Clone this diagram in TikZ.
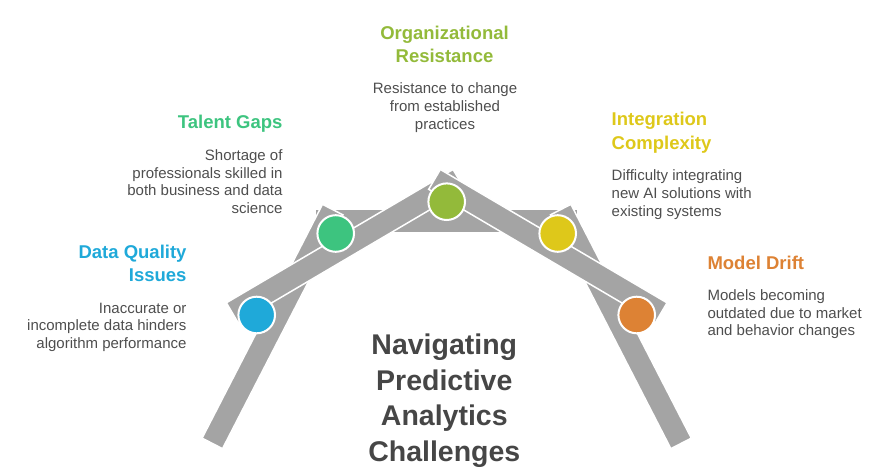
\documentclass[tikz,border=0pt]{standalone}
\usepackage{fontspec}
\setmainfont{Liberation Sans}
\definecolor{barc}{RGB}{164,164,164}
\definecolor{cblue}{RGB}{31,169,217}
\definecolor{cgreen}{RGB}{61,196,127}
\definecolor{colive}{RGB}{147,186,58}
\definecolor{cyellow}{RGB}{222,200,26}
\definecolor{corange}{RGB}{221,130,52}
\definecolor{desc}{RGB}{78,78,78}
\definecolor{maint}{RGB}{70,70,70}
\newcommand{\linesR}[1]{\begin{tabular}[t]{@{}r@{}}#1\end{tabular}}
\newcommand{\linesL}[1]{\begin{tabular}[t]{@{}l@{}}#1\end{tabular}}
\newcommand{\linesC}[1]{\begin{tabular}[t]{@{}c@{}}#1\end{tabular}}
\begin{document}
\begin{tikzpicture}[x=1pt,y=-1pt,
  bar/.style={draw=white, line width=1.5pt, fill=barc, minimum width=263pt, minimum height=23pt, inner sep=0pt, outer sep=0pt},
  dot/.style={circle, draw=white, line width=2pt, minimum size=36.6pt, inner sep=0pt},
  ttl/.style={font=\fontsize{18.5}{23.6}\selectfont\bfseries, inner sep=0pt},
  dsc/.style={font=\fontsize{15}{17.6}\selectfont, text=desc, inner sep=0pt},
]
\useasboundingbox (0,0) rectangle (893,470);
% bars
\node[bar] (hbar) at (446.7,221) {};
\node[bar, rotate=62.75] (legL) at (272.5,326.5) {};
\node[bar, rotate=-62.75] (legR) at (620.9,326.5) {};
\node[bar, rotate=30.46] (armL) at (345.55,246.05) {};
\node[bar, rotate=-30.46] (armR) at (547.85,246.05) {};
% circles
\node[dot, fill=cblue] (c1) at (256.7,315) {};
\node[dot, fill=cgreen] (c2) at (335.7,233.5) {};
\node[dot, fill=colive] (c3) at (446.7,201.7) {};
\node[dot, fill=cyellow] (c4) at (557.7,233.5) {};
\node[dot, fill=corange] (c5) at (636.7,315) {};
% texts
\node[ttl, text=colive, anchor=base] (t3) at (444.5,39.3) {\linesC{Organizational\\Resistance}};
\node[dsc, anchor=base] (d3) at (445,94) {\linesC{Resistance to change\\from established\\practices}};
\node[ttl, text=cgreen, anchor=base east] (t2) at (282.7,128.3) {\linesR{Talent Gaps}};
\node[dsc, anchor=base east] (d2) at (282.7,160.7) {\linesR{Shortage of\\professionals skilled in\\both business and data\\science}};
\node[ttl, text=cblue, anchor=base east] (t1) at (186.7,258.3) {\linesR{Data Quality\\Issues}};
\node[dsc, anchor=base east] (d1) at (186.7,313.3) {\linesR{Inaccurate or\\incomplete data hinders\\algorithm performance}};
\node[ttl, text=cyellow, anchor=base west] (t4) at (611.5,126) {\linesL{Integration\\Complexity}};
\node[dsc, anchor=base west] (d4) at (611.5,181) {\linesL{Difficulty integrating\\new AI solutions with\\existing systems}};
\node[ttl, text=corange, anchor=base west] (t5) at (707.3,269.3) {\linesL{Model Drift}};
\node[dsc, anchor=base west] (d5) at (707.3,300.7) {\linesL{Models becoming\\outdated due to market\\and behavior changes}};
\node[font=\fontsize{28.5}{35.8}\selectfont\bfseries, text=maint, inner sep=0pt, anchor=base] (main) at (444.3,354.3) {\linesC{Navigating\\Predictive\\Analytics\\Challenges}};
\end{tikzpicture}
\end{document}
